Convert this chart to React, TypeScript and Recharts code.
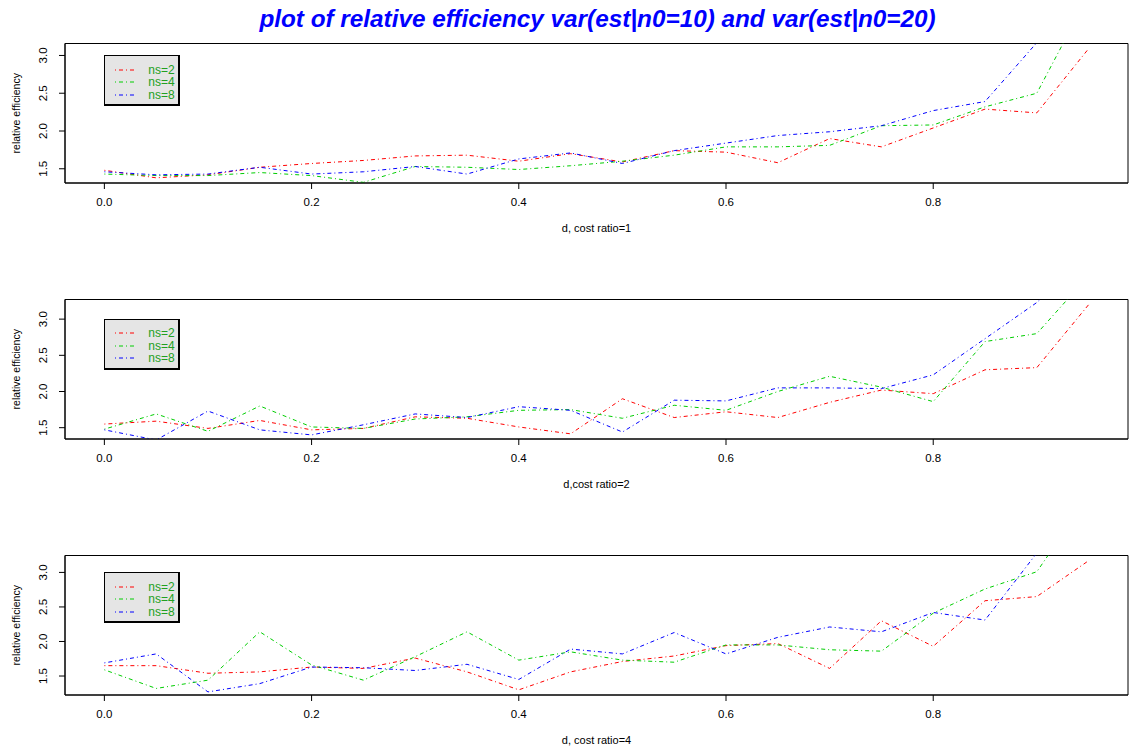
import { LineChart, Line, XAxis, YAxis, Legend, ReferenceArea } from "recharts";

// d values (x axis), shared by all three panels
const D_VALUES = [
  0, 0.05, 0.1, 0.15, 0.2, 0.25, 0.3, 0.35, 0.4, 0.45, 0.5, 0.55, 0.6, 0.65,
  0.7, 0.75, 0.8, 0.85, 0.9, 0.95,
];

// cost ratio = 1
const NS2_RATIO1 = [1.48, 1.38, 1.42, 1.52, 1.57, 1.61, 1.67, 1.68, 1.6, 1.7, 1.59, 1.74, 1.72, 1.58, 1.9, 1.79, 2.04, 2.29, 2.24, 3.09];
const NS4_RATIO1 = [1.43, 1.41, 1.41, 1.45, 1.41, 1.32, 1.53, 1.52, 1.49, 1.54, 1.6, 1.68, 1.79, 1.79, 1.81, 2.07, 2.08, 2.32, 2.5, 3.8];
const NS8_RATIO1 = [1.46, 1.42, 1.43, 1.52, 1.43, 1.46, 1.53, 1.43, 1.63, 1.71, 1.57, 1.74, 1.84, 1.94, 1.99, 2.07, 2.27, 2.39, 3.17, 4.3];

// cost ratio = 2
const NS2_RATIO2 = [1.55, 1.59, 1.49, 1.6, 1.47, 1.49, 1.65, 1.63, 1.51, 1.415, 1.9, 1.64, 1.72, 1.64, 1.85, 2.02, 1.97, 2.3, 2.33, 3.2];
const NS4_RATIO2 = [1.48, 1.69, 1.45, 1.8, 1.51, 1.49, 1.62, 1.65, 1.74, 1.75, 1.63, 1.81, 1.74, 2.0, 2.21, 2.06, 1.86, 2.69, 2.8, 3.6];
const NS8_RATIO2 = [1.47, 1.33, 1.73, 1.47, 1.4, 1.54, 1.69, 1.64, 1.79, 1.74, 1.44, 1.88, 1.87, 2.05, 2.05, 2.04, 2.23, 2.73, 3.23, 3.9];

// cost ratio = 4
const NS2_RATIO4 = [1.65, 1.65, 1.54, 1.56, 1.63, 1.61, 1.76, 1.56, 1.3, 1.56, 1.71, 1.79, 1.94, 1.97, 1.61, 2.3, 1.93, 2.59, 2.65, 3.17];
const NS4_RATIO4 = [1.59, 1.32, 1.44, 2.14, 1.66, 1.44, 1.78, 2.14, 1.73, 1.85, 1.73, 1.7, 1.95, 1.95, 1.88, 1.86, 2.41, 2.76, 3.01, 4.1];
const NS8_RATIO4 = [1.69, 1.82, 1.27, 1.39, 1.63, 1.62, 1.58, 1.67, 1.45, 1.89, 1.82, 2.13, 1.82, 2.06, 2.21, 2.14, 2.42, 2.31, 3.28, 4.0];

const X_TICKS = [0, 0.2, 0.4, 0.6, 0.8];
const Y_TICKS = [1.5, 2.0, 2.5, 3.0];
const SERIES = [
  { key: "ns2", name: "ns=2", color: "#ff0000" },
  { key: "ns4", name: "ns=4", color: "#00cd00" },
  { key: "ns8", name: "ns=8", color: "#0000ff" },
];

const PANELS = [
  { title: "d, cost ratio=1", ns2: NS2_RATIO1, ns4: NS4_RATIO1, ns8: NS8_RATIO1 },
  { title: "d,cost ratio=2", ns2: NS2_RATIO2, ns4: NS4_RATIO2, ns8: NS8_RATIO2 },
  { title: "d, cost ratio=4", ns2: NS2_RATIO4, ns4: NS4_RATIO4, ns8: NS8_RATIO4 },
];

const FONT = '"Liberation Sans", Arial, Helvetica, sans-serif';
const W = 1129;
const PANEL_H = 256;
const M_TOP = 43.5;
const M_LEFT = 65;
const M_RIGHT = 1;
const XAXIS_H = 50;
const M_BOTTOM = 23;
const PLOT_H = PANEL_H - M_TOP - XAXIS_H - M_BOTTOM;
const DASH = "1 3 4 3";

// R style axis range: data range plus 4% on each side
function rRange(values: number[]): [number, number] {
  const lo = Math.min(...values);
  const hi = Math.max(...values);
  const pad = (hi - lo) * 0.04;
  return [lo - pad, hi + pad];
}

const X_DOMAIN = rRange(D_VALUES);

function YTick(props: any) {
  const { x, y, payload } = props;
  const tx = x - 10;
  return (
    <text
      x={tx}
      y={y}
      transform={`rotate(-90, ${tx}, ${y})`}
      textAnchor="middle"
      fontSize={11.5}
      fontFamily={FONT}
      fill="#000"
    >
      {Number(payload.value).toFixed(1)}
    </text>
  );
}

function YTitle(props: any) {
  const vb = props.viewBox ?? { x: 0, y: M_TOP, width: M_LEFT, height: PLOT_H };
  const tx = vb.x + 16;
  const ty = vb.y + vb.height / 2;
  return (
    <text
      x={tx}
      y={ty}
      transform={`rotate(-90, ${tx}, ${ty})`}
      textAnchor="middle"
      dominantBaseline="central"
      fontSize={10.5}
      fontFamily={FONT}
      fill="#000"
    >
      relative efficiency
    </text>
  );
}

function LegendBox() {
  return (
    <div
      style={{
        width: 76,
        height: 51,
        boxSizing: "border-box",
        background: "#e5e5e5",
        border: "1px solid #000",
        borderRightWidth: 2,
        borderBottomWidth: 2,
        paddingTop: 7,
        fontFamily: FONT,
      }}
    >
      {SERIES.map((s) => (
        <div key={s.key} style={{ display: "flex", alignItems: "center", height: 12.5 }}>
          <svg width={43} height={12} style={{ display: "block" }}>
            <line x1={10} x2={29} y1={6} y2={6} stroke={s.color} strokeWidth={1} strokeDasharray={DASH} />
          </svg>
          <span style={{ fontSize: 12, color: "#22a022", lineHeight: "12px" }}>{s.name}</span>
        </div>
      ))}
    </div>
  );
}

function Panel({ panel, top }: { panel: (typeof PANELS)[number]; top: number }) {
  const rows = D_VALUES.map((d, i) => ({
    d,
    ns2: panel.ns2[i],
    ns4: panel.ns4[i],
    ns8: panel.ns8[i],
  }));
  const yDomain = rRange(panel.ns2);
  const plotW = W - M_LEFT - M_RIGHT;
  const legendLeft = M_LEFT + ((0 - X_DOMAIN[0]) / (X_DOMAIN[1] - X_DOMAIN[0])) * plotW;
  const legendTop = M_TOP + ((yDomain[1] - 3.0) / (yDomain[1] - yDomain[0])) * PLOT_H;

  return (
    <div style={{ position: "absolute", left: 0, top }}>
      <LineChart
        width={W}
        height={PANEL_H}
        data={rows}
        margin={{ top: M_TOP, right: M_RIGHT, bottom: M_BOTTOM, left: 0 }}
      >
        <XAxis
          dataKey="d"
          type="number"
          domain={X_DOMAIN}
          ticks={X_TICKS}
          allowDataOverflow
          height={XAXIS_H}
          tickFormatter={(v: number) => v.toFixed(1)}
          tick={{ fontSize: 11.5, fill: "#000", fontFamily: FONT }}
          tickSize={6}
          tickMargin={9}
          stroke="#000"
          axisLine={{ stroke: "#000" }}
          tickLine={{ stroke: "#000" }}
          label={{
            value: panel.title,
            position: "insideBottom",
            offset: 1,
            fontSize: 11,
            fill: "#000",
            fontFamily: FONT,
          }}
        />
        <YAxis
          type="number"
          domain={yDomain}
          ticks={Y_TICKS}
          allowDataOverflow
          width={M_LEFT}
          tick={<YTick />}
          tickSize={6}
          tickMargin={2}
          axisLine={{ stroke: "#000" }}
          tickLine={{ stroke: "#000" }}
          label={{ position: "insideLeft", content: YTitle }}
        />
        {/* plot frame, like R's box() */}
        <ReferenceArea
          x1={X_DOMAIN[0]}
          x2={X_DOMAIN[1]}
          y1={yDomain[0]}
          y2={yDomain[1]}
          fill="none"
          fillOpacity={0}
          stroke="#000"
          strokeWidth={1}
          strokeOpacity={1}
        />
        <Legend
          layout="horizontal"
          verticalAlign="middle"
          align="center"
          content={() => <LegendBox />}
          wrapperStyle={{ left: legendLeft, top: legendTop, width: 76, height: 51 }}
        />
        {SERIES.map((s) => (
          <Line
            key={s.key}
            type="linear"
            dataKey={s.key}
            name={s.name}
            stroke={s.color}
            strokeWidth={1}
            strokeDasharray={DASH}
            dot={false}
            activeDot={false}
            isAnimationActive={false}
          />
        ))}
      </LineChart>
    </div>
  );
}

export default function App() {
  return (
    <div
      style={{
        position: "absolute",
        left: 0,
        top: 0,
        width: W,
        height: 749,
        background: "#fff",
        overflow: "hidden",
        fontFamily: FONT,
      }}
    >
      <div
        style={{
          position: "absolute",
          left: 0,
          width: 1195,
          top: 5,
          textAlign: "center",
          color: "#0000ff",
          fontWeight: "bold",
          fontStyle: "italic",
          fontSize: 24.3,
          lineHeight: "28px",
          whiteSpace: "nowrap",
        }}
      >
        plot of relative efficiency var(est|n0=10) and var(est|n0=20)
      </div>
      {PANELS.map((p, i) => (
        <Panel key={p.title} panel={p} top={i * PANEL_H} />
      ))}
    </div>
  );
}
